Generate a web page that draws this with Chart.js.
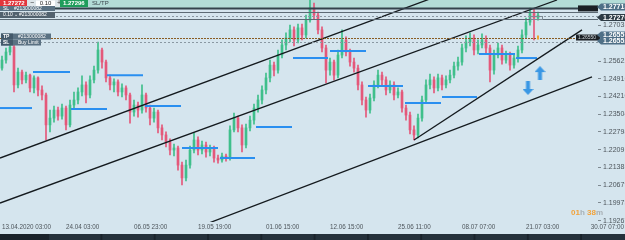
<!DOCTYPE html>
<html>
<head>
<meta charset="utf-8">
<script src="https://cdn.jsdelivr.net/npm/chart.js@4.4.0/dist/chart.umd.min.js"></script>
<style>
html, body { margin: 0; padding: 0; background: #d5e5ee; }
</style>
</head>
<body>
<canvas id="myChart" width="625" height="240"></canvas>
<script>
// GBPUSD H4 candles, one entry per bar
var firstOpen = 1.2534
var closes = [
    1.2566, 1.2598, 1.2618, 1.2467, 1.2518, 1.2487, 1.2506, 1.2455, 1.2495, 1.2447,
    1.2427, 1.2308, 1.2335, 1.2367, 1.2343, 1.2375, 1.2308, 1.2387, 1.2407, 1.2439,
    1.2467, 1.2427, 1.2487, 1.2526, 1.2606, 1.2558, 1.2495, 1.2467, 1.2479, 1.2439,
    1.2455, 1.2427, 1.2359, 1.2387, 1.2367, 1.2427, 1.2375, 1.2335, 1.2359, 1.2296,
    1.2268, 1.2240, 1.2208, 1.2216, 1.2148, 1.2097, 1.2148, 1.2208, 1.2248, 1.2208,
    1.2228, 1.2200, 1.2216, 1.2176, 1.2168, 1.2184, 1.2176, 1.2288, 1.2335, 1.2296,
    1.2228, 1.2296, 1.2327, 1.2375, 1.2407, 1.2447, 1.2495, 1.2546, 1.2526, 1.2586,
    1.2626, 1.2654, 1.2686, 1.2646, 1.2694, 1.2666, 1.2725, 1.2773, 1.2745, 1.2686,
    1.2614, 1.2526, 1.2558, 1.2506, 1.2586, 1.2646, 1.2598, 1.2558, 1.2534, 1.2467,
    1.2407, 1.2367, 1.2415, 1.2467, 1.2506, 1.2487, 1.2447, 1.2467, 1.2427, 1.2439,
    1.2375, 1.2347, 1.2288, 1.2268, 1.2335, 1.2407, 1.2467, 1.2487, 1.2455, 1.2495,
    1.2467, 1.2487, 1.2506, 1.2542, 1.2558, 1.2614, 1.2638, 1.2654, 1.2606, 1.2626,
    1.2646, 1.2614, 1.2526, 1.2586, 1.2614, 1.2566, 1.2586, 1.2546, 1.2574, 1.2606,
    1.2666, 1.2717, 1.2757, 1.2733, 1.2745
]
var highs = [
    1.2582, 1.2614, 1.2634, 1.2626, 1.2534, 1.2526, 1.2518, 1.2510, 1.2503, 1.2499,
    1.2463, 1.2435, 1.2367, 1.2383, 1.2379, 1.2391, 1.2383, 1.2407, 1.2439, 1.2455,
    1.2503, 1.2479, 1.2503, 1.2542, 1.2638, 1.2614, 1.2566, 1.2506, 1.2491, 1.2487,
    1.2471, 1.2463, 1.2435, 1.2407, 1.2399, 1.2467, 1.2435, 1.2387, 1.2375, 1.2367,
    1.2308, 1.2280, 1.2252, 1.2232, 1.2224, 1.2160, 1.2168, 1.2224, 1.2276, 1.2260,
    1.2244, 1.2240, 1.2228, 1.2224, 1.2188, 1.2196, 1.2192, 1.2304, 1.2355, 1.2343,
    1.2308, 1.2311, 1.2343, 1.2391, 1.2427, 1.2463, 1.2514, 1.2566, 1.2558, 1.2606,
    1.2646, 1.2674, 1.2705, 1.2698, 1.2709, 1.2709, 1.2745, 1.2810, 1.2793, 1.2757,
    1.2698, 1.2626, 1.2574, 1.2566, 1.2606, 1.2686, 1.2658, 1.2610, 1.2574, 1.2546,
    1.2479, 1.2419, 1.2431, 1.2483, 1.2526, 1.2518, 1.2499, 1.2483, 1.2479, 1.2455,
    1.2447, 1.2387, 1.2359, 1.2304, 1.2351, 1.2423, 1.2487, 1.2510, 1.2499, 1.2510,
    1.2506, 1.2503, 1.2526, 1.2558, 1.2578, 1.2630, 1.2662, 1.2674, 1.2666, 1.2646,
    1.2670, 1.2662, 1.2626, 1.2606, 1.2634, 1.2626, 1.2602, 1.2598, 1.2590, 1.2622,
    1.2686, 1.2733, 1.2773, 1.2769, 1.2757
]
var lows = [
    1.2526, 1.2554, 1.2586, 1.2439, 1.2455, 1.2471, 1.2475, 1.2439, 1.2435, 1.2423,
    1.2407, 1.2248, 1.2280, 1.2319, 1.2327, 1.2331, 1.2288, 1.2300, 1.2375, 1.2391,
    1.2423, 1.2395, 1.2415, 1.2475, 1.2514, 1.2534, 1.2479, 1.2447, 1.2439, 1.2423,
    1.2419, 1.2407, 1.2315, 1.2343, 1.2339, 1.2355, 1.2359, 1.2308, 1.2319, 1.2276,
    1.2248, 1.2220, 1.2188, 1.2184, 1.2128, 1.2069, 1.2085, 1.2136, 1.2196, 1.2188,
    1.2192, 1.2180, 1.2184, 1.2160, 1.2156, 1.2160, 1.2164, 1.2168, 1.2280, 1.2280,
    1.2200, 1.2216, 1.2284, 1.2311, 1.2359, 1.2391, 1.2431, 1.2479, 1.2503, 1.2514,
    1.2574, 1.2606, 1.2638, 1.2622, 1.2634, 1.2646, 1.2654, 1.2717, 1.2729, 1.2670,
    1.2598, 1.2475, 1.2506, 1.2487, 1.2495, 1.2574, 1.2582, 1.2542, 1.2518, 1.2447,
    1.2387, 1.2339, 1.2355, 1.2403, 1.2455, 1.2467, 1.2427, 1.2435, 1.2407, 1.2415,
    1.2359, 1.2327, 1.2272, 1.2248, 1.2256, 1.2323, 1.2395, 1.2451, 1.2435, 1.2443,
    1.2447, 1.2455, 1.2475, 1.2495, 1.2526, 1.2546, 1.2598, 1.2622, 1.2586, 1.2590,
    1.2614, 1.2590, 1.2479, 1.2510, 1.2574, 1.2550, 1.2554, 1.2526, 1.2534, 1.2558,
    1.2594, 1.2654, 1.2705, 1.2646, 1.2725
]

// time axis
var timeLabels = ['13.04.2020 03:00', '24.04 03:00', '06.05 23:00', '19.05 19:00', '01.06 15:00',
    '12.06 15:00', '25.06 11:00', '08.07 07:00', '21.07 03:00']
var timeLabelBars = [0, 16, 33, 49, 66, 82, 99, 115, 131]
var lastTimeLabel = '30.07 07:00'

// price axis
var priceTicks = [1.19267, 1.19973, 1.20679, 1.21385, 1.22091, 1.22798, 1.23504, 1.24210, 1.24916, 1.25622, 1.27035]
var priceTickLabels = ['1.19267', '1.19973', '1.20679', '1.21385', '1.22091', '1.22798', '1.23504', '1.24210', '1.24916', '1.25622', '1.27035']

// trend lines (bar index / price at both ends)
var trendStartBar = [-0.5, -0.5, 49.5, 103]
var trendStartPrice = [1.2176, 1.1997, 1.1904, 1.2248]
var trendEndBar = [110, 138.75, 147.5, 145]
var trendEndPrice = [1.2827, 1.2805, 1.2499, 1.2686]

// short blue levels
var levelStartBar = [-0.5, 7.75, 17.25, 26.25, 35.75, 45, 54.5, 63.5, 72.75, 82, 91.5, 100.75, 110, 119.25, 128.5]
var levelEndBar = [7.5, 17, 26.25, 35.25, 44.75, 54, 63.25, 72.5, 81.5, 91, 100.25, 109.75, 118.75, 128.25, 133.75]
var levelPrice = [1.2375, 1.2518, 1.2371, 1.2506, 1.2383, 1.2216, 1.2176, 1.2300, 1.2574, 1.2602, 1.2463, 1.2395, 1.2419, 1.2590, 1.2574]

// order / SL / TP lines across the chart
var orderLinePrices = [1.27715, 1.2758, 1.2741, 1.27276, 1.26557, 1.2638]
var priceBoxLabels = ['1.27715', '1.27276', '1.26557', '1.26552']

// arrows
var arrowUpBar = [134.5]
var arrowUpPrice = [1.2514]
var arrowDownBar = [131.5]
var arrowDownPrice = [1.2455]

var ctx = document.getElementById('myChart')
var FONT = '"Liberation Sans", Arial, sans-serif'

var opens = closes.map(function (c, i) { return i === 0 ? firstOpen : closes[i - 1] })
var candleColors = closes.map(function (c, i) { return c >= opens[i] ? '#3fbf8b' : '#e4587a' })
var bodies = closes.map(function (c, i) { return { x: i, y: [opens[i], c] } })
var wicks = closes.map(function (c, i) { return { x: i, y: [lows[i], highs[i]] } })

function makeArrow(up) {
    var cv = document.createElement('canvas')
    cv.width = 11
    cv.height = 14
    var g = cv.getContext('2d')
    g.fillStyle = '#3a97e4'
    g.beginPath()
    if (up) {
        g.moveTo(5.5, 0); g.lineTo(11, 6); g.lineTo(7.5, 6); g.lineTo(7.5, 14)
        g.lineTo(3.5, 14); g.lineTo(3.5, 6); g.lineTo(0, 6)
    } else {
        g.moveTo(5.5, 14); g.lineTo(11, 8); g.lineTo(7.5, 8); g.lineTo(7.5, 0)
        g.lineTo(3.5, 0); g.lineTo(3.5, 8); g.lineTo(0, 8)
    }
    g.closePath()
    g.fill()
    return cv
}

var datasets = [
    { type: 'bar', data: wicks, backgroundColor: candleColors, barThickness: 1, grouped: false, order: 3 },
    { type: 'bar', data: bodies, backgroundColor: candleColors, barThickness: 2, grouped: false, minBarLength: 1, order: 2 }
]

levelPrice.forEach(function (p, i) {
    datasets.push({
        type: 'line',
        data: [{ x: levelStartBar[i], y: p }, { x: levelEndBar[i], y: p }],
        borderColor: '#2a8ff0',
        borderWidth: 2,
        pointRadius: 0,
        order: 1
    })
})

trendStartBar.forEach(function (b, i) {
    datasets.push({
        type: 'line',
        data: [{ x: b, y: trendStartPrice[i] }, { x: trendEndBar[i], y: trendEndPrice[i] }],
        borderColor: '#141a1e',
        borderWidth: 1.3,
        pointRadius: 0,
        order: 0
    })
})

datasets.push({
    type: 'scatter',
    data: arrowUpBar.map(function (b, i) { return { x: b, y: arrowUpPrice[i] } }),
    pointStyle: makeArrow(true),
    order: 0
})
datasets.push({
    type: 'scatter',
    data: arrowDownBar.map(function (b, i) { return { x: b, y: arrowDownPrice[i] } }),
    pointStyle: makeArrow(false),
    order: 0
})

function rect(c, x, y, w, h, fill) {
    c.fillStyle = fill
    c.fillRect(x, y, w, h)
}
function text(c, s, x, y, color, font, align) {
    c.fillStyle = color
    c.font = font
    c.textAlign = align || 'left'
    c.textBaseline = 'middle'
    c.fillText(s, x, y)
}

var lineStyles = [
    { color: '#34424c', width: 2, dash: [] },
    { color: '#5c6a74', width: 1, dash: [] },
    { color: '#8a98a2', width: 1, dash: [2, 2] },
    { color: '#5c6a74', width: 1, dash: [] },
    { color: '#8a5c22', width: 1.2, dash: [2, 1] },
    { color: '#8a98a2', width: 1, dash: [2, 2] }
]

var decor = {
    id: 'decor',
    beforeDraw: function (chart) {
        var c = chart.ctx
        var y = chart.scales.y
        c.save()
        rect(c, 0, 0, chart.width, chart.height, '#d5e5ee')
        rect(c, 0, 0, chart.width, y.getPixelForValue(orderLinePrices[0]), '#b4dcd7')
        c.restore()
    },
    afterDatasetsDraw: function (chart) {
        var c = chart.ctx
        var y = chart.scales.y
        var area = chart.chartArea
        c.save()
        orderLinePrices.forEach(function (p, i) {
            var py = Math.round(y.getPixelForValue(p)) + 0.5
            var st = lineStyles[i]
            c.strokeStyle = st.color
            c.lineWidth = st.width
            c.setLineDash(st.dash)
            c.beginPath()
            c.moveTo(0, py)
            c.lineTo(area.right, py)
            c.stroke()
        })
        c.setLineDash([])
        // drag handles on the right of the chart
        var y1 = y.getPixelForValue(orderLinePrices[0])
        rect(c, area.right - 20, y1 - 3, 20, 6, '#1b2025')
        var y2 = y.getPixelForValue(orderLinePrices[4])
        rect(c, area.right - 22, y2 - 3, 24, 6, '#1b2025')
        text(c, '1.26550', area.right - 20, y2, '#cfd6da', '5px ' + FONT)
        // trade marker near last bar
        var xs = chart.scales.x
        c.strokeStyle = '#7d8a93'
        c.lineWidth = 1
        c.strokeRect(Math.round(xs.getPixelForValue(132)) + 0.5, Math.round(y.getPixelForValue(1.2741)) + 0.5, 12, 3)
        rect(c, xs.getPixelForValue(134) - 1, y2 - 2, 2, 4, '#f0a030')
        c.restore()
    },
    afterDraw: function (chart) {
        var c = chart.ctx
        var y = chart.scales.y
        var area = chart.chartArea
        c.save()
        // price boxes on the axis
        var boxY = [y.getPixelForValue(orderLinePrices[0]) - 1.5, y.getPixelForValue(orderLinePrices[3]) - 2,
            y.getPixelForValue(orderLinePrices[4]) - 2.5, y.getPixelForValue(orderLinePrices[4]) + 3.5]
        var boxCol = ['#4e6f86', '#2d3b45', '#4e6f86', '#4e6f86']
        priceBoxLabels.forEach(function (s, i) {
            var yc = boxY[i]
            c.fillStyle = boxCol[i]
            c.beginPath()
            c.moveTo(area.right - 1, yc)
            c.lineTo(area.right + 3, yc - 3.5)
            c.lineTo(chart.width, yc - 3.5)
            c.lineTo(chart.width, yc + 3.5)
            c.lineTo(area.right + 3, yc + 3.5)
            c.closePath()
            c.fill()
            text(c, s, area.right + 5, yc + 0.5, '#ffffff', 'bold 7px ' + FONT)
        })
        // one click panel
        rect(c, 0, 0, 27, 7, '#e2363c')
        text(c, '1.27272', 3, 3.5, '#ffffff', 'bold 6px ' + FONT)
        rect(c, 27, 0, 33, 7, '#dde5e9')
        text(c, '\u2212', 30, 3.5, '#333', '7px ' + FONT)
        rect(c, 36, 0.5, 19, 6, '#ffffff')
        text(c, '0.10', 45.5, 3.5, '#222', '6px ' + FONT, 'center')
        text(c, '+', 57, 3.5, '#333', '7px ' + FONT)
        rect(c, 60, 0, 28, 7, '#1f9d5b')
        text(c, '1.27296', 63, 3.5, '#ffffff', 'bold 6px ' + FONT)
        text(c, 'SL/TP', 92, 3.5, '#3a444b', '6px ' + FONT)
        // order labels on the left
        rect(c, 0, 6, 55, 5, '#5a7182')
        text(c, 'SL', 3, 8.6, '#ffffff', '5px ' + FONT)
        text(c, '#213000082', 14, 8.6, '#ffffff', '5px ' + FONT)
        rect(c, 0, 12, 55, 6, '#52626e')
        text(c, '0.10 \u2304', 3, 15, '#ffffff', '5px ' + FONT)
        text(c, '#213000082', 19, 15, '#ffffff', '5px ' + FONT)
        var yt = y.getPixelForValue(orderLinePrices[4])
        rect(c, 1, yt - 4, 50, 6, '#5a7182')
        rect(c, 1, yt - 4, 12, 6, '#43596a')
        text(c, 'TP', 3, yt - 1, '#ffffff', 'bold 5px ' + FONT)
        text(c, '#213000082', 18, yt - 1, '#ffffff', '5px ' + FONT)
        rect(c, 1, yt + 2, 40, 6, '#5a7182')
        rect(c, 1, yt + 2, 12, 6, '#43596a')
        text(c, 'SL', 3, yt + 5, '#ffffff', 'bold 5px ' + FONT)
        text(c, 'Buy Limit', 18, yt + 5, '#ffffff', '5px ' + FONT)
        // countdown
        c.font = 'bold 8px ' + FONT
        c.textBaseline = 'middle'
        c.textAlign = 'left'
        var parts = [['01', '#f2a33a'], ['h ', '#a8b0b5'], ['38', '#f2a33a'], ['m', '#a8b0b5']]
        var px = 571
        parts.forEach(function (p) {
            c.fillStyle = p[1]
            c.fillText(p[0], px, 213)
            px += c.measureText(p[0]).width
        })
        // last time label
        text(c, lastTimeLabel, chart.width - 1, 227, '#4d555b', '6.3px ' + FONT, 'right')
        // terminal tabs at the bottom
        rect(c, 0, 234, chart.width, 6, '#1a232b')
        for (var t = 0; t < 11; t++) {
            var tx = 49 + t * 53.3
            rect(c, tx, 234, 51.5, 6, '#25313b')
        }
        c.restore()
    }
}

var myChart = new Chart(ctx, {
    type: 'bar',
    data: { datasets: datasets },
    options: {
        responsive: false,
        animation: false,
        devicePixelRatio: 1,
        layout: { autoPadding: false, padding: { left: 0, right: 0, top: 0, bottom: 6 } },
        plugins: { legend: { display: false }, tooltip: { enabled: false } },
        scales: {
            x: {
                type: 'linear',
                min: -0.5,
                max: 149,
                offset: false,
                grid: { display: false, drawTicks: false },
                border: { display: false },
                afterBuildTicks: function (s) { s.ticks = timeLabelBars.map(function (v) { return { value: v } }) },
                afterFit: function (s) {
                    s.height = 12
                    s.paddingLeft = 0
                    s.paddingRight = 0
                },
                ticks: {
                    autoSkip: false,
                    maxRotation: 0,
                    align: 'start',
                    padding: 1,
                    color: '#4d555b',
                    font: { size: 6.3, family: FONT },
                    callback: function (v, i) { return timeLabels[i] }
                }
            },
            y: {
                position: 'right',
                min: 1.19215,
                max: 1.2805,
                grid: { drawOnChartArea: false, tickLength: 3, color: '#7f8a91' },
                border: { display: false },
                afterBuildTicks: function (s) { s.ticks = priceTicks.map(function (v) { return { value: v } }) },
                afterFit: function (s) {
                    s.width = 27
                    s.paddingTop = 0
                    s.paddingBottom = 0
                },
                ticks: {
                    autoSkip: false,
                    padding: 2,
                    color: '#4d555b',
                    font: { size: 7, family: FONT },
                    callback: function (v, i) { return priceTickLabels[i] }
                }
            }
        }
    },
    plugins: [decor]
})
</script>
</body>
</html>
